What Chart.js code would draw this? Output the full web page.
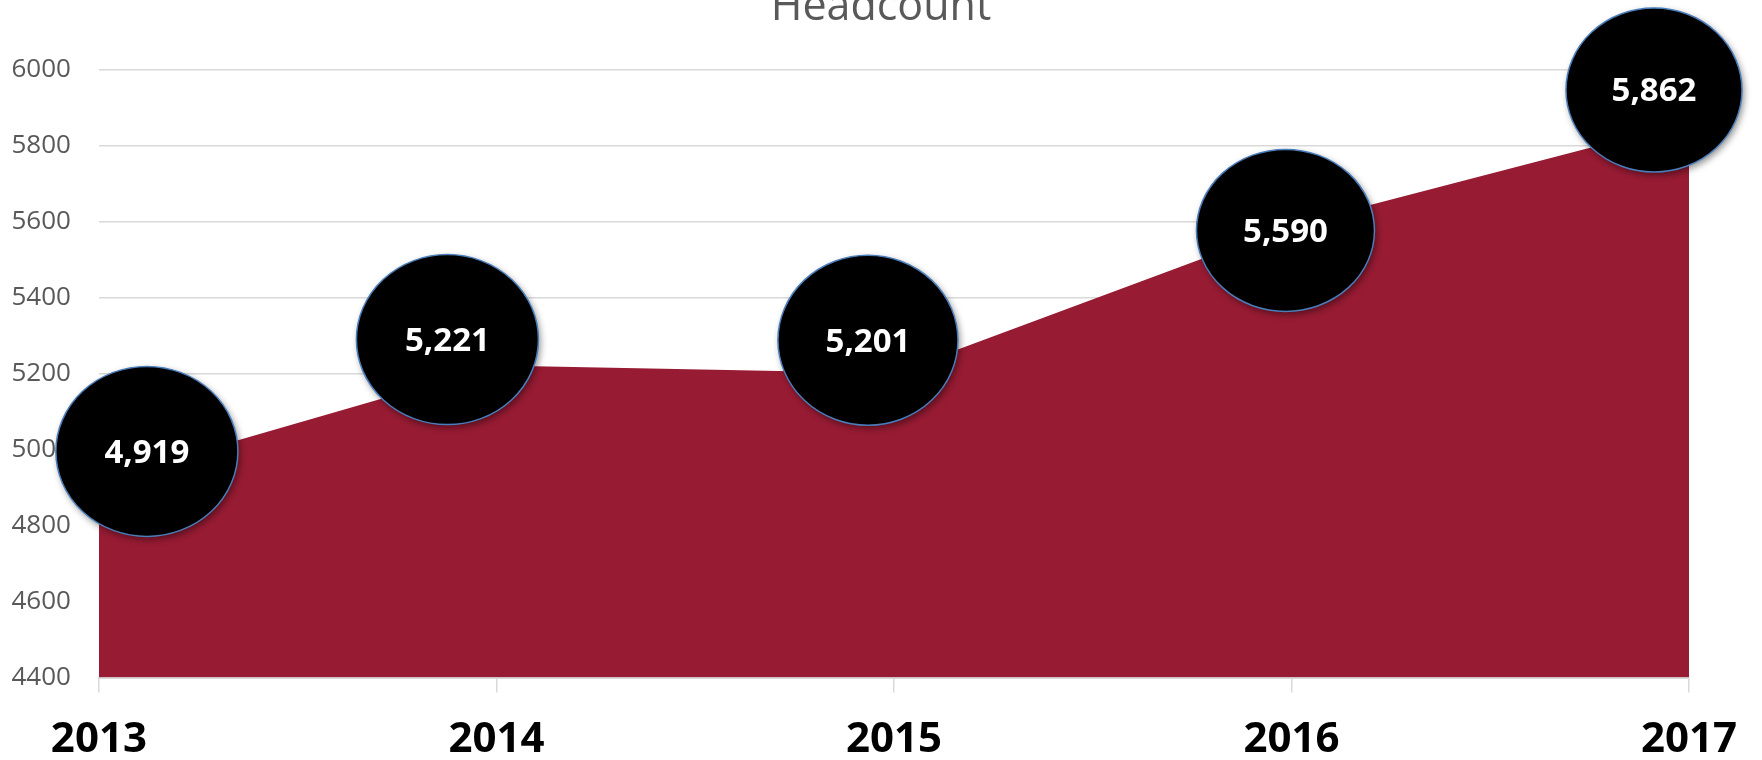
<!DOCTYPE html>
<html>
<head>
<meta charset="utf-8">
<script src="https://cdn.jsdelivr.net/npm/chart.js@4"></script>
<style>
  body { margin: 0; background: #fff; }
  #wrap { width: 1762px; height: 760px; position: relative; }
</style>
</head>
<body>
<div id="wrap"><canvas id="myChart"></canvas></div>
<script>
//------------------------------------------------------//
//chart data
let years = ["2013", "2014", "2015", "2016", "2017"]
let headcount = [4919, 5221, 5201, 5590, 5862]
let yMin = 4400
let yMax = 6000
let yStep = 200

//------------------------------------------------------//
//bubble label styling (offsets from the point, in px)
let bubbleDx = [48, -49, -26, -6, -35]
let bubbleDy = [-29, -26, -33, 5, -32]
let bubbleRx = [91, 91, 90, 89, 88]
let bubbleRy = [85, 85, 85, 81, 82]

//draws the black ellipses with the values in them
const bubblePlugin = {
    id: 'bubbles',
    afterDatasetsDraw(chart) {
        let ctx = chart.ctx
        let meta = chart.getDatasetMeta(0)
        meta.data.forEach((pt, i) => {
            let cx = pt.x + bubbleDx[i]
            let cy = pt.y + bubbleDy[i]
            ctx.save()
            ctx.beginPath()
            ctx.ellipse(cx, cy, bubbleRx[i], bubbleRy[i], 0, 0, Math.PI * 2)
            ctx.shadowColor = 'rgba(0,0,0,0.45)'
            ctx.shadowBlur = 7
            ctx.shadowOffsetX = 2
            ctx.shadowOffsetY = 3
            ctx.fillStyle = '#000'
            ctx.fill()
            ctx.shadowColor = 'transparent'
            ctx.lineWidth = 1.5
            ctx.strokeStyle = '#4a7ebb'
            ctx.stroke()
            ctx.fillStyle = '#fff'
            ctx.font = 'bold 33px "Open Sans"'
            ctx.textAlign = 'center'
            ctx.textBaseline = 'middle'
            ctx.fillText(headcount[i].toLocaleString('en-US'), cx, cy + 2)
            ctx.restore()
        })
    }
}

//------------------------------------------------------//
//This creates my canvas
var ctx = document.getElementById('myChart').getContext('2d');
var chart = new Chart(ctx, {
    type: 'line',
    data: {
        labels: years,
        datasets: [{
            label: 'Headcount',
            data: headcount,
            backgroundColor: '#971b33',
            borderWidth: 0,
            pointRadius: 0,
            tension: 0,
            fill: 'start'
        }]
    },
    plugins: [bubblePlugin],
    options: {
        responsive: true,
        maintainAspectRatio: false,
        animation: false,
        layout: {
            padding: 0
        },
        plugins: {
            legend: { display: false },
            tooltip: { enabled: false },
            title: {
                display: true,
                text: 'Headcount',
                color: '#595959',
                font: { family: 'Open Sans', size: 43, weight: 'normal', lineHeight: 1.2 },
                padding: { top: -18, bottom: 36 }
            }
        },
        scales: {
            x: {
                offset: false,
                border: { color: '#d9d9d9', width: 2 },
                grid: { drawOnChartArea: false, drawTicks: true, tickLength: 15, color: '#d9d9d9', lineWidth: 1.5 },
                ticks: {
                    color: '#000',
                    padding: 22,
                    maxRotation: 0,
                    font: { family: 'Open Sans', size: 42, weight: 'bold', lineHeight: 1.2 }
                },
                afterFit: (axis) => {
                    axis.height = 82.4
                    axis.paddingRight = 73
                }
            },
            y: {
                min: yMin,
                max: yMax,
                border: { display: false },
                grid: { color: '#d9d9d9', lineWidth: 1.5, drawTicks: false },
                ticks: {
                    stepSize: yStep,
                    color: '#595959',
                    padding: 28,
                    font: { family: 'Open Sans', size: 26 },
                    callback: (v) => v
                },
                afterFit: (axis) => { axis.width = 98.9 }
            }
        }
    }
});
</script>
</body>
</html>
